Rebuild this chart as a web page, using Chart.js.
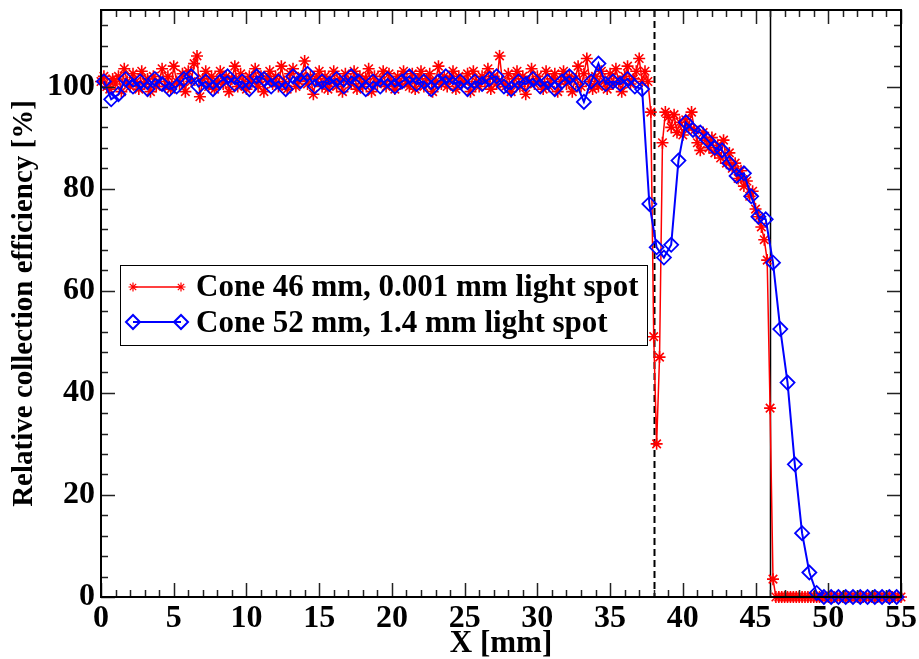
<!DOCTYPE html>
<html>
<head>
<meta charset="utf-8">
<script src="https://cdn.jsdelivr.net/npm/chart.js@4.4.0/dist/chart.umd.min.js"></script>
<style>
  html, body { margin: 0; padding: 0; background: #fff; }
  canvas { display: block; }
</style>
</head>
<body>
<canvas id="myChart" width="919" height="659"></canvas>
<script>
// Cone 46 mm, 0.001 mm spot - sampled every 0.2 mm starting at 0
var redName = 'Cone 46 mm, 0.001 mm light spot';
var redStart = 0, redStep = 0.2;
var redVals = [
  101, 102, 100, 99.5, 101.5, 100.5, 102, 99, 103.5, 101,
  100, 102.5, 101, 99.5, 103, 100.5, 101.5, 99, 102, 100,
  101, 103.5, 100, 102, 99.5, 104, 101, 100.5, 102.5, 99,
  103, 101, 104.5, 106, 98, 101.5, 103, 100, 102, 99.5,
  101, 103, 100.5, 102, 99, 101.5, 104, 100, 102.5, 101,
  99.5, 102, 101, 103.5, 100, 102, 99, 101.5, 103, 100.5,
  102, 100, 104, 101, 99.5, 102.5, 103.5, 100, 101, 102,
  105, 100.5, 102, 98.5, 101.5, 103, 100, 102, 99.5, 101,
  103, 100, 101.5, 99, 102.5, 101, 100.5, 103, 99.5, 102,
  100, 101.5, 103.5, 99, 102, 100.5, 101, 103, 100, 102.5,
  101, 99.5, 102, 100.5, 103, 101, 100, 102.5, 99.5, 101.5,
  103, 100, 101.5, 102.5, 99, 101, 104, 100.5, 102, 100,
  101.5, 103, 99.5, 102, 100.5, 101, 102.5, 99, 103, 101,
  100, 102, 101, 103.5, 99.5, 102, 100.5, 106, 101, 100,
  102.5, 99, 101.5, 103, 100, 102, 98.5, 101, 103.5, 100.5,
  102, 101, 99.5, 103, 100, 101.5, 102.5, 99, 101, 103,
  100.5, 102, 99, 101.5, 104, 100, 102.5, 105.5, 101, 99.5,
  102, 100, 103, 101, 99.5, 102.5, 100.5, 103.5, 101, 99,
  102, 104, 100.5, 101.5, 103, 105.5, 101, 103, 101, 95,
  51, 30, 47, 89, 95,
  94, 92, 94.5, 91, 93, 90.5, 93.5, 92, 95, 91.5,
  89, 87.5, 91, 89.5, 88, 90, 87, 88.5, 86, 89.5,
  85, 87, 84, 85, 82, 83.5, 80.5, 81.5, 78.5, 79.5,
  76, 74.5, 72.5, 70, 66, 37, 3.5,
  0, 0, 0, 0, 0, 0, 0, 0, 0, 0, 0,
  0, 0, 0, 0, 0, 0, 0, 0, 0, 0, 0,
  0, 0, 0, 0, 0, 0, 0, 0, 0, 0, 0,
  0, 0, 0, 0, 0, 0, 0, 0, 0, 0, 0
];

// Cone 52 mm, 1.4 mm spot - sampled every 0.5 mm starting at 0.2
var blueName = 'Cone 52 mm, 1.4 mm light spot';
var blueStart = 0.2, blueStep = 0.5;
var blueVals = [
  101, 97.5, 98.5, 101.5, 100, 101, 99.5, 101.5, 100.5, 99.5,
  100, 101.5, 102, 100, 101, 99.5, 101, 102, 100.5, 101,
  99.5, 102, 101.5, 100, 101, 99.5, 102, 101, 102.5, 100,
  101, 100.5, 101.5, 100, 102, 101, 99.5, 101, 100, 101.5,
  100, 101, 102, 100.5, 101, 99.5, 101, 102, 100.5, 101,
  99.5, 101, 100.5, 101.5, 102, 100, 99.5, 101, 100.5, 101.5,
  100, 101, 99.5, 101, 102, 100.5, 97, 101, 104.5, 100.5,
  101, 100.5, 101.5, 100,
  99.5, 77, 68.5, 66.5, 69, 85.5, 93, 91.5, 91, 89.5,
  88, 87.5, 85, 82.5, 83, 78.5, 74.5, 74, 65.5, 52.5,
  42, 26, 12.5, 4.8, 0.8,
  0, 0, 0, 0, 0, 0, 0, 0, 0, 0, 0
];

var xTicks = [0, 5, 10, 15, 20, 25, 30, 35, 40, 45, 50, 55];
var yTicks = [0, 20, 40, 60, 80, 100];
var xMinorStep = 1, yMinorStep = 4;
var dashedLineX = 38;   // dashed marker
var solidLineX = 46;    // solid marker

var serif = '"Liberation Serif", "Times New Roman", serif';

function toPoints(start, step, vals) {
  var pts = [];
  for (var i = 0; i < vals.length; i++) {
    pts.push({ x: Math.round((start + i * step) * 100) / 100, y: vals[i] });
  }
  return pts;
}

function drawStar(ctx, x, y, r) {
  ctx.beginPath();
  ctx.moveTo(x - r, y); ctx.lineTo(x + r, y);
  ctx.moveTo(x, y - r); ctx.lineTo(x, y + r);
  var d = r * Math.SQRT1_2;
  ctx.moveTo(x - d, y - d); ctx.lineTo(x + d, y + d);
  ctx.moveTo(x - d, y + d); ctx.lineTo(x + d, y - d);
  ctx.stroke();
}

function drawDiamond(ctx, x, y, r) {
  ctx.beginPath();
  ctx.moveTo(x - r, y); ctx.lineTo(x, y - r);
  ctx.lineTo(x + r, y); ctx.lineTo(x, y + r);
  ctx.closePath();
  ctx.stroke();
}

var markerLines = {
  id: 'markerLines',
  beforeDatasetsDraw: function(chart) {
    var ctx = chart.ctx, a = chart.chartArea, xs = chart.scales.x;
    ctx.save();
    ctx.strokeStyle = '#000';
    ctx.lineWidth = 2;
    ctx.setLineDash([7, 4]);
    var px = Math.round(xs.getPixelForValue(dashedLineX)) + 0.5;
    ctx.beginPath(); ctx.moveTo(px, a.top); ctx.lineTo(px, a.bottom); ctx.stroke();
    ctx.setLineDash([]);
    ctx.lineWidth = 1.5;
    px = Math.round(xs.getPixelForValue(solidLineX)) + 0.5;
    ctx.beginPath(); ctx.moveTo(px, a.top); ctx.lineTo(px, a.bottom); ctx.stroke();
    ctx.restore();
  }
};

var frameAndLegend = {
  id: 'frameAndLegend',
  afterDraw: function(chart) {
    var ctx = chart.ctx, a = chart.chartArea;
    var xs = chart.scales.x, ys = chart.scales.y;
    ctx.save();
    // ticks on all four sides
    ctx.strokeStyle = '#222';
    ctx.lineWidth = 1.5;
    ctx.beginPath();
    for (var v = 0; v <= 55; v += xMinorStep) {
      var px = Math.round(xs.getPixelForValue(v)) + 0.5;
      var len = (v % 5 === 0) ? 14 : 7;
      ctx.moveTo(px, a.bottom); ctx.lineTo(px, a.bottom - len);
      ctx.moveTo(px, a.top); ctx.lineTo(px, a.top + len);
    }
    for (var w = 0; w <= 115; w += yMinorStep) {
      var py = Math.round(ys.getPixelForValue(w)) + 0.5;
      var l2 = (w % 20 === 0) ? 14 : 7;
      ctx.moveTo(a.left, py); ctx.lineTo(a.left + l2, py);
      ctx.moveTo(a.right, py); ctx.lineTo(a.right - l2, py);
    }
    ctx.stroke();
    // frame
    ctx.strokeStyle = '#000';
    ctx.lineWidth = 2;
    ctx.strokeRect(a.left, a.top, a.right - a.left, a.bottom - a.top);

    // legend box
    ctx.fillStyle = '#fff';
    ctx.fillRect(120, 265, 528, 80);
    ctx.lineWidth = 1;
    ctx.strokeStyle = '#000';
    ctx.strokeRect(120.5, 265.5, 527, 80);

    ctx.strokeStyle = '#ff0000';
    ctx.lineWidth = 1.5;
    ctx.beginPath(); ctx.moveTo(133, 287); ctx.lineTo(181, 287); ctx.stroke();
    ctx.lineWidth = 1.2;
    drawStar(ctx, 133, 287, 4.5);
    drawStar(ctx, 181, 287, 4.5);

    ctx.strokeStyle = '#0000ff';
    ctx.lineWidth = 2;
    ctx.beginPath(); ctx.moveTo(133, 322); ctx.lineTo(181, 322); ctx.stroke();
    drawDiamond(ctx, 133, 322, 7);
    drawDiamond(ctx, 181, 322, 7);

    ctx.fillStyle = '#000';
    ctx.font = 'bold 31px ' + serif;
    ctx.textAlign = 'left';
    ctx.textBaseline = 'alphabetic';
    ctx.fillText(redName, 196, 296);
    ctx.fillText(blueName, 196, 332);
    ctx.restore();
  }
};

var ctx = document.getElementById('myChart');
var myChart = new Chart(ctx, {
  type: 'line',
  data: {
    datasets: [{
      label: redName,
      data: toPoints(redStart, redStep, redVals),
      borderColor: '#ff0000',
      backgroundColor: 'transparent',
      borderWidth: 1.5,
      pointStyle: 'star',
      pointRadius: 6,
      pointBorderWidth: 1.6,
      pointBorderColor: '#ff0000',
      order: 1,
      clip: false
    }, {
      label: blueName,
      data: toPoints(blueStart, blueStep, blueVals),
      borderColor: '#0000ff',
      backgroundColor: 'transparent',
      borderWidth: 2,
      pointStyle: 'rectRot',
      pointRadius: 7,
      pointBorderWidth: 1.8,
      pointBorderColor: '#0000ff',
      pointBackgroundColor: 'transparent',
      order: 0,
      clip: false
    }]
  },
  options: {
    responsive: false,
    animation: false,
    events: [],
    layout: { padding: { top: 10, right: 18, left: 0, bottom: 0 } },
    plugins: {
      legend: { display: false },
      tooltip: { enabled: false }
    },
    scales: {
      x: {
        type: 'linear',
        min: 0,
        max: 55,
        afterBuildTicks: function(scale) {
          scale.ticks = xTicks.map(function(t) { return { value: t }; });
        },
        afterFit: function(scale) {
          scale.height = 62;
          scale.paddingLeft = 0;
          scale.paddingRight = 0;
        },
        grid: { display: false, drawTicks: false },
        border: { display: false },
        ticks: {
          color: '#000',
          padding: 3,
          maxRotation: 0,
          autoSkip: false,
          font: { family: serif, size: 32, weight: 'bold' }
        },
        title: {
          display: true,
          text: 'X [mm]',
          color: '#000',
          padding: { top: 0, bottom: 0 },
          font: { family: serif, size: 31, weight: 'bold', lineHeight: 1 }
        }
      },
      y: {
        min: 0,
        max: 115,
        afterBuildTicks: function(scale) {
          scale.ticks = yTicks.map(function(t) { return { value: t }; });
        },
        afterFit: function(scale) {
          scale.width = 101;
          scale.paddingTop = 0;
          scale.paddingBottom = 0;
        },
        grid: { display: false, drawTicks: false },
        border: { display: false },
        ticks: {
          color: '#000',
          padding: 6,
          autoSkip: false,
          font: { family: serif, size: 32, weight: 'bold' }
        },
        title: {
          display: true,
          text: 'Relative collection efficiency [%]',
          color: '#000',
          padding: { top: 10, bottom: 2 },
          font: { family: serif, size: 29, weight: 'bold', lineHeight: 1 }
        }
      }
    }
  },
  plugins: [markerLines, frameAndLegend]
});
</script>
</body>
</html>
